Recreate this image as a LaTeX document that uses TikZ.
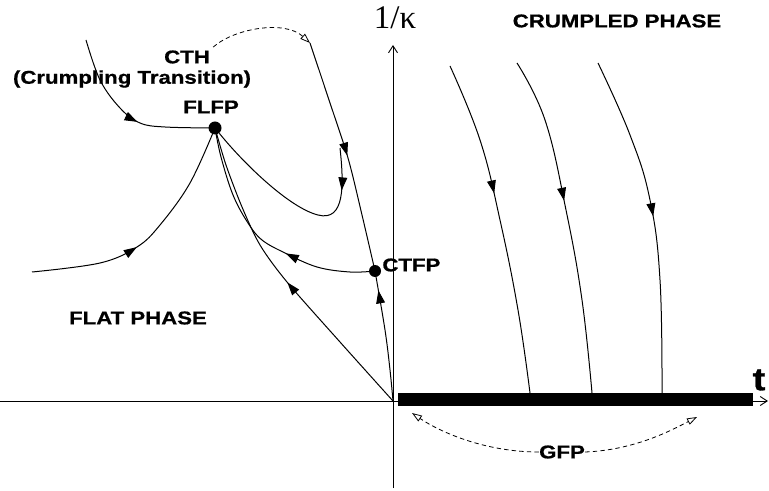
\documentclass[tikz,border=0pt]{standalone}
\usepackage{fontspec}
\setmainfont{Liberation Sans}
\newfontfamily\labfont[FakeStretch=1.2, BoldFeatures={FakeBold=0.8}]{Liberation Sans}
\newfontfamily\serfont{Liberation Serif}
\usetikzlibrary{arrows.meta,decorations.markings}
\tikzset{
  lab/.style={font=\labfont\fontsize{9.25}{10}\selectfont\bfseries, inner sep=0pt},
  flow/.style={line width=0.5pt, postaction={decorate},
    decoration={markings, mark=at position #1 with {\arrow{Triangle[length=6.5pt,width=4.4pt]}}}},
  fp/.style={circle, fill=black, inner sep=0pt, minimum size=#1},
  dsh/.style={line width=0.4pt, dash pattern=on 2.2pt off 1.6pt, -{Triangle[open,length=5pt,width=3.4pt]}},
  ax/.style={line width=0.45pt},
}
\begin{document}
\begin{tikzpicture}[x=0.5pt,y=-0.5pt]
\useasboundingbox (0,0) rectangle (769,491);
% axes
\coordinate (xl) at (0,401);
\coordinate (xr) at (768,401);
\coordinate (yb) at (393,488);
\coordinate (yt) at (393,45);
\coordinate (O) at (393,401);
\draw[ax,-{Straight Barb[length=3.5pt,width=4.5pt]}] (xl) -- (xr);
\draw[ax,-{Straight Barb[length=3.5pt,width=4.5pt]}] (yb) -- (yt);
% bar
\fill (398,393) rectangle (753,406);
% labels
\node[font=\serfont\fontsize{16.5}{17}\selectfont, inner sep=0pt] (kap) at (395,18) {1/κ};
\node[font=\labfont\fontsize{16}{17}\selectfont\bfseries, inner sep=0pt] (t) at (759,380) {t};
\node[lab] (crum) at (617,21) {CRUMPLED PHASE};
\node[lab] (flat) at (138,318) {FLAT PHASE};
\node[lab] (cth) at (187,57) {CTH};
\node[lab] (ctht) at (132,79) {(Crumpling Transition)};
\node[lab] (flfpl) at (211,107) {FLFP};
\node[lab] (gfp) at (562,452) {GFP};
% fixed points
\node[fp=6.5pt] (FLFP) at (215,128) {};
\node[fp=6pt] (CTFP) at (375,271) {};
\node[lab, anchor=west] (ctfpl) at (382,265) {CTFP};
% start coordinates
\coordinate (s1) at (86,40);
\coordinate (s2) at (32,272);
\coordinate (s3) at (340,148);
\coordinate (s4) at (310,43);
\coordinate (c1a) at (450,66);
\coordinate (c1b) at (530,393);
\coordinate (c2a) at (517,63);
\coordinate (c2b) at (592,393);
\coordinate (c3a) at (598,63);
\coordinate (c3b) at (662,393);
\coordinate (g1) at (412,413);
\coordinate (g2) at (697,417);
% flows into FLFP
\draw[flow=0.56] plot[smooth, tension=0.6] coordinates {(s1) (100,80) (120,108) (140,123) (165,127) (FLFP)};
\draw[flow=0.43] plot[smooth, tension=0.6] coordinates {(s2) (100,263) (137,247) (160,225) (190,183) (FLFP)};
\draw[flow=0.2] (s3) .. controls (344,185) and (345,222) .. (318,215) .. controls (290,208) and (245,165) .. (FLFP);
\draw[flow=0.5] plot[smooth, tension=0.5] coordinates {(s4) (329,100) (348,158) (362,215) (CTFP)};
\draw[flow=0.38] plot[smooth, tension=0.6] coordinates {(CTFP) (350,272) (317,267) (285,253) (262,240) (248,223) (233,195) (221,157) (FLFP)};
\draw[flow=0.48] plot[smooth, tension=0.5] coordinates {(O) (340,342) (287,282) (260,245) (242,207) (226,165) (FLFP)};
\draw[flow=0.85] plot[smooth, tension=0.6] coordinates {(O) (390,370) (385,330) (CTFP)};
% crumpled flows
\draw[flow=0.4] plot[smooth, tension=0.7] coordinates {(c1a) (480,140) (500,220) (518,310) (c1b)};
\draw[flow=0.43] plot[smooth, tension=0.7] coordinates {(c2a) (545,120) (566,210) (582,300) (c2b)};
\draw[flow=0.48] plot[smooth, tension=0.7] coordinates {(c3a) (630,135) (650,200) (660,280) (c3b)};
% dashed
\draw[dsh] (cth.north east) ++(3,-3) .. controls (235,28) and (285,20) .. (s4);
\draw[dsh] (gfp.west) .. controls (485,452) and (440,432) .. (g1);
\draw[dsh] (gfp.east) .. controls (635,450) and (672,430) .. (g2);
\end{tikzpicture}
\end{document}
